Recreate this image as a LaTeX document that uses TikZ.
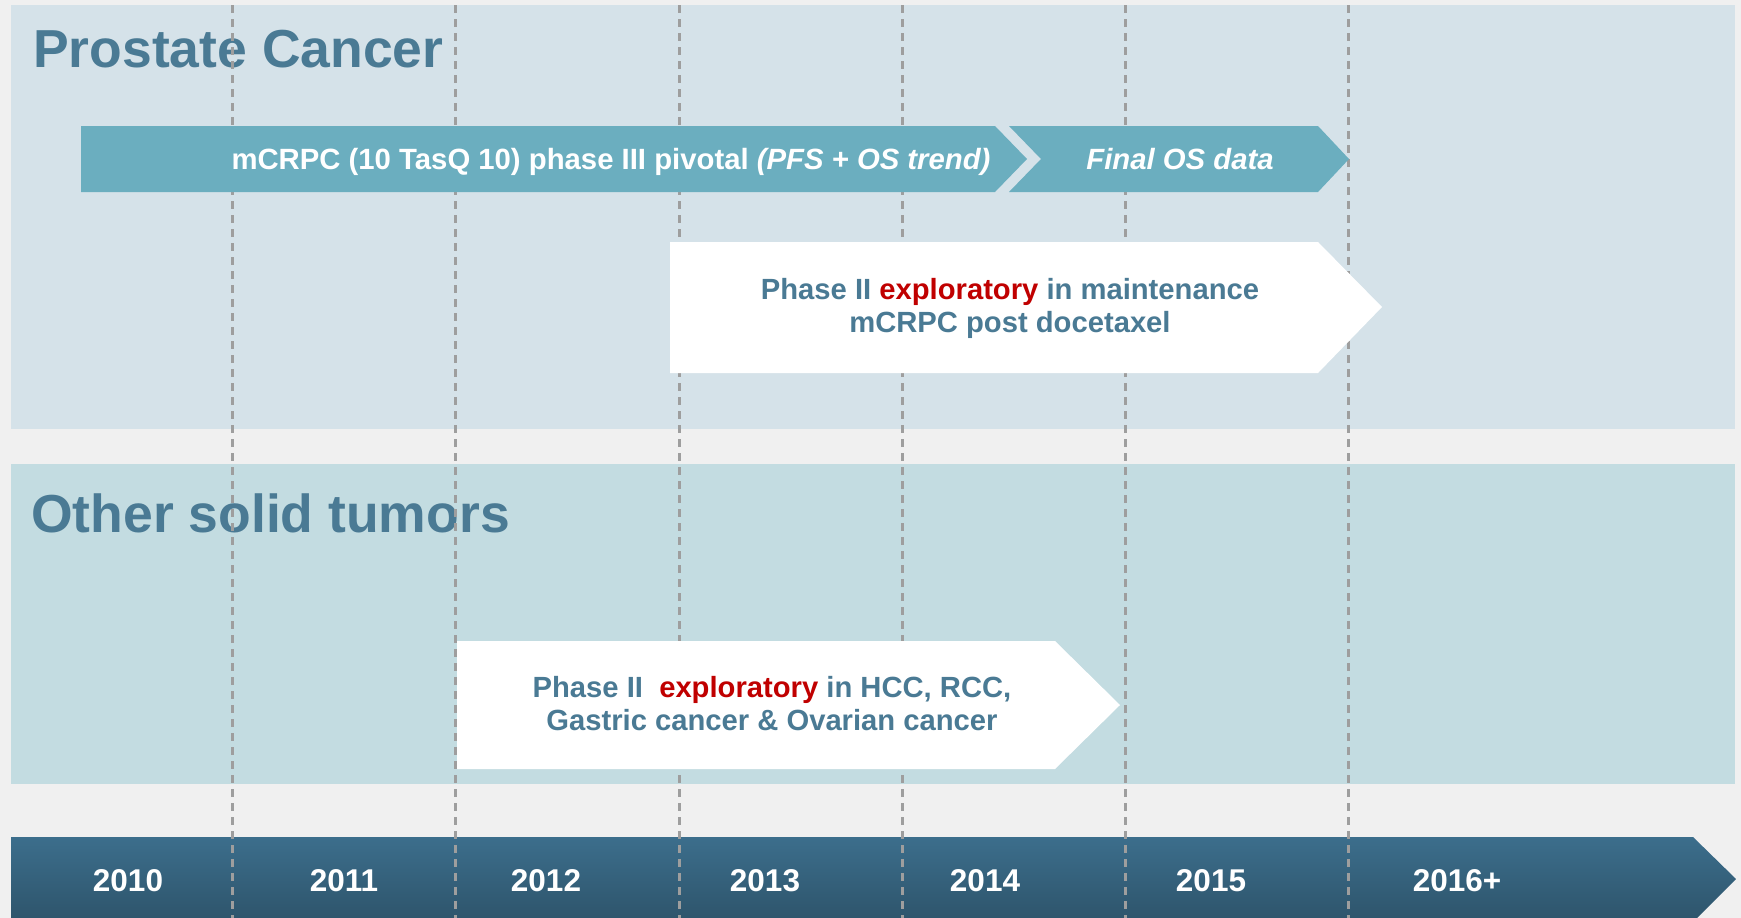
\documentclass[tikz,border=0pt]{standalone}
\usepackage{fontspec}
\setmainfont{Liberation Sans}
\definecolor{pagegray}{HTML}{F0F0F0}
\definecolor{prostatebg}{HTML}{D5E2E9}
\definecolor{solidbg}{HTML}{C3DCE1}
\definecolor{titleblue}{HTML}{4A7A94}
\definecolor{tealarrow}{HTML}{6BAEBF}
\definecolor{bartop}{HTML}{3C6E8C}
\definecolor{barbottom}{HTML}{2E556C}
\definecolor{gridgray}{HTML}{9E9E9E}
\definecolor{hotred}{HTML}{C00000}
\begin{document}
\begin{tikzpicture}[x=1pt, y=-1pt]

\tikzstyle{paneltitle}=[anchor=base west, inner sep=0pt, text=titleblue, font=\fontsize{53.5}{60}\selectfont\bfseries]
\tikzstyle{phasetext}=[anchor=base, inner sep=0pt, text=white, font=\fontsize{29.3}{33}\selectfont\bfseries]
\tikzstyle{studytext}=[inner sep=0pt, align=center, text=titleblue, font=\fontsize{29.2}{33}\selectfont\bfseries]
\tikzstyle{yearlabel}=[anchor=base, inner sep=0pt, text=white, font=\fontsize{31.5}{36}\selectfont\bfseries]
\tikzstyle{yearline}=[draw=gridgray, line width=3pt, dash pattern=on 8pt off 6pt]

\useasboundingbox [fill=pagegray] (0,0) rectangle (1741,918);

\fill [prostatebg] (11,5) rectangle (1735,429);
\fill [solidbg] (11,464) rectangle (1735,784);

\node (P) [paneltitle] at (33,67) {Prostate Cancer};
\node (S) [paneltitle] at (31,532) {Other solid tumors};

\shade [top color=bartop, bottom color=barbottom] (11,837) -- (1693,837) -- (1736,879) -- (1697,918) -- (11,918) -- cycle;

\foreach \x/\yr [count=\i] in {128/2010, 344/2011, 546/2012, 765/2013, 985/2014, 1211/2015, 1457/2016+}
  \node (Y\i) [yearlabel] at (\x,891) {\yr};

\foreach \x in {232, 455, 679, 902, 1125, 1348}
  \draw [yearline] (\x,5) -- (\x,918);

\fill [tealarrow] (81,126) -- (995,126) -- (1027,159) -- (995,192) -- (81,192) -- cycle;
\fill [tealarrow] (1009,126) -- (1318,126) -- (1349,159) -- (1318,192) -- (1009,192) -- (1041,159) -- cycle;
\fill [white] (670,242) -- (1318,242) -- (1382,307) -- (1318,373) -- (670,373) -- cycle;
\fill [white] (457,641) -- (1055,641) -- (1120,705) -- (1055,769) -- (457,769) -- cycle;

\node (A) [phasetext] at (611,169) {mCRPC (10 TasQ 10) phase III pivotal \textit{(PFS + OS trend)}};
\node (B) [phasetext] at (1180,169) {\textit{Final OS data}};
\node (C) [studytext] at (1010,308) {Phase II \textcolor{hotred}{exploratory} in maintenance\\ mCRPC post docetaxel};
\node (D) [studytext] at (772,704) {Phase II~ \textcolor{hotred}{exploratory} in HCC, RCC,\\ Gastric cancer \& Ovarian cancer};

\end{tikzpicture}
\end{document}
